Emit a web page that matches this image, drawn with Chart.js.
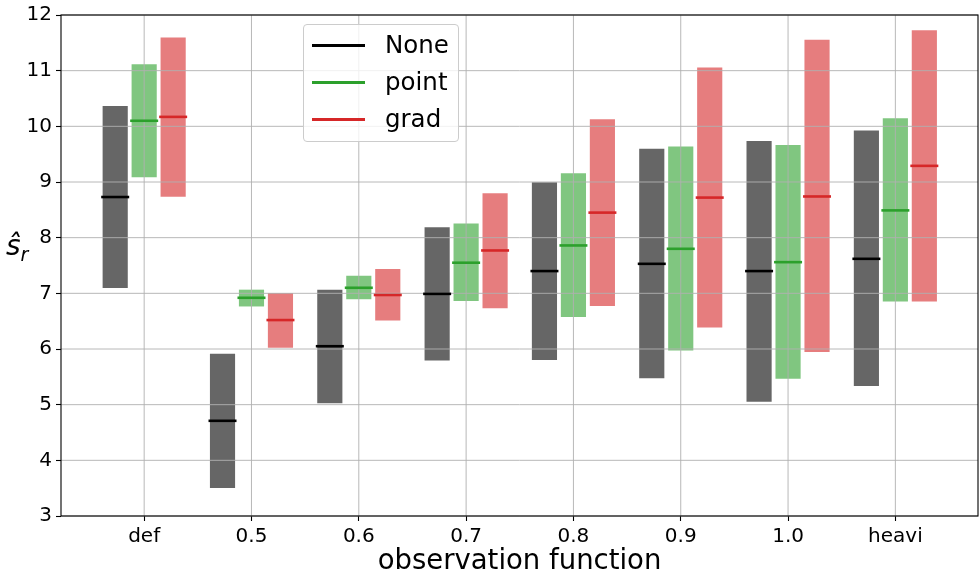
<!DOCTYPE html>
<html><head><meta charset="utf-8">
<script src="https://cdn.jsdelivr.net/npm/chart.js@4/dist/chart.umd.min.js"></script>
<style>
html,body{margin:0;padding:0;background:#fff;}
#wrap{position:relative;width:980px;height:578px;overflow:hidden;}
#c{position:absolute;left:0;top:0;}
#ylab{position:absolute;left:6px;top:232px;font-family:'DejaVu Sans';font-size:28px;font-style:italic;color:#000;line-height:1;white-space:nowrap;}
#ylab sub{font-size:19px;vertical-align:-6px;}
#legend{position:absolute;left:303px;top:24px;width:156px;height:118px;border:1px solid #cccccc;border-radius:4px;background:rgba(255,255,255,0.8);box-sizing:border-box;}
.row{position:absolute;left:0;height:30px;width:100%;}
.sw{position:absolute;left:8px;top:14px;width:53px;height:2.6px;}
.lt{position:absolute;left:81px;top:0;line-height:30px;font-family:'DejaVu Sans';font-size:24.5px;color:#000;white-space:nowrap;}
</style></head>
<body>
<div id="wrap">
<canvas id="c" width="980" height="578"></canvas>
<div id="ylab">ŝ<sub>r</sub></div>
<div id="legend"></div>
</div>
<script>
// ---- data ----
const categories = ['def', '0.5', '0.6', '0.7', '0.8', '0.9', '1.0', 'heavi'];
const seriesNames = ['None', 'point', 'grad'];

const noneLow  = [7.10, 3.51, 5.03, 5.80, 5.81, 5.48, 5.06, 5.34];
const noneHigh = [10.36, 5.91, 7.06, 8.18, 8.99, 9.59, 9.73, 9.92];
const noneMed  = [8.73, 4.71, 6.05, 6.99, 7.40, 7.53, 7.40, 7.62];

const pointLow  = [9.09, 6.77, 6.90, 6.87, 6.58, 5.98, 5.47, 6.86];
const pointHigh = [11.11, 7.06, 7.31, 8.25, 9.15, 9.63, 9.66, 10.14];
const pointMed  = [10.10, 6.92, 7.10, 7.55, 7.86, 7.80, 7.56, 8.49];

const gradLow  = [8.74, 6.03, 6.52, 6.74, 6.78, 6.39, 5.95, 6.86];
const gradHigh = [11.59, 7.00, 7.43, 8.79, 10.12, 11.05, 11.55, 11.72];
const gradMed  = [10.17, 6.52, 6.97, 7.77, 8.45, 8.72, 8.74, 9.29];

const yTicks = [3, 4, 5, 6, 7, 8, 9, 10, 11, 12];

// ---- styling ----
const FONT = "'DejaVu Sans', 'Liberation Sans', sans-serif";
const lineColors = ['#000000', '#2ca02c', '#d62728'];
const barColors = ['rgba(0,0,0,0.6)', 'rgba(44,160,44,0.6)', 'rgba(214,39,40,0.6)'];
const groupOffset = [-0.27, 0, 0.27];

const lows = [noneLow, pointLow, gradLow];
const highs = [noneHigh, pointHigh, gradHigh];
const meds = [noneMed, pointMed, gradMed];

const datasets = [];
seriesNames.forEach((name, k) => {
  datasets.push({
    type: 'bar',
    label: name + ' range',
    data: lows[k].map((lo, i) => ({ x: i + groupOffset[k], y: [lo, highs[k][i]] })),
    backgroundColor: barColors[k],
    borderWidth: 0,
    barThickness: 24.5,
    grouped: false,
    order: 2
  });
});
seriesNames.forEach((name, k) => {
  datasets.push({
    type: 'scatter',
    label: name,
    data: meds[k].map((m, i) => ({ x: i + groupOffset[k], y: m })),
    pointStyle: 'line',
    pointRadius: 14,
    pointHoverRadius: 14,
    pointBorderWidth: 2.6,
    borderColor: lineColors[k],
    backgroundColor: lineColors[k],
    showLine: false,
    order: 1
  });
});

let gridDone = false;
const mplPlugin = {
  id: 'mpl',
  beforeDatasetsDraw() { gridDone = false; },
  beforeDatasetDraw(chart, args) {
    if (gridDone || args.meta.type !== 'scatter') return;
    gridDone = true;
    const { ctx, chartArea: a, scales: { x, y } } = chart;
    ctx.save();
    ctx.strokeStyle = '#b0b0b0';
    ctx.lineWidth = 0.9;
    x.ticks.forEach(t => {
      const px = x.getPixelForValue(t.value);
      ctx.beginPath(); ctx.moveTo(px, a.top); ctx.lineTo(px, a.bottom); ctx.stroke();
    });
    y.ticks.forEach(t => {
      const py = y.getPixelForValue(t.value);
      ctx.beginPath(); ctx.moveTo(a.left, py); ctx.lineTo(a.right, py); ctx.stroke();
    });
    ctx.restore();
  },
  afterDatasetsDraw(chart) {
    const { ctx, chartArea: a } = chart;
    ctx.save();
    ctx.strokeStyle = '#000';
    ctx.lineWidth = 1.1;
    ctx.strokeRect(a.left, a.top, a.right - a.left, a.bottom - a.top);
    ctx.restore();
  }
};

const chart = new Chart(document.getElementById('c'), {
  type: 'bar',
  data: { datasets },
  plugins: [mplPlugin],
  options: {
    responsive: false,
    animation: false,
    events: [],
    layout: { autoPadding: false, padding: { top: 15, right: 2, left: 0, bottom: 0 } },
    plugins: { legend: { display: false }, tooltip: { enabled: false } },
    scales: {
      x: {
        type: 'linear',
        offset: false,
        min: -0.775,
        max: 7.77,
        afterBuildTicks: s => { s.ticks = categories.map((_, i) => ({ value: i })); },
        afterFit: s => { s.height = 62; s.paddingLeft = 0; s.paddingRight = 0; },
        ticks: {
          callback: v => categories[v] !== undefined ? categories[v] : '',
          font: { family: FONT, size: 20 },
          color: '#000',
          padding: 4,
          autoSkip: false,
          maxRotation: 0
        },
        grid: { offset: false, drawOnChartArea: false, drawTicks: true, tickLength: 5, tickColor: '#000', tickWidth: 1.1 },
        border: { display: false },
        title: {
          display: true,
          text: 'observation function',
          font: { family: FONT, size: 27.5 },
          color: '#000',
          padding: { top: 0, bottom: 0 }
        }
      },
      y: {
        type: 'linear',
        min: 3,
        max: 12,
        afterBuildTicks: s => { s.ticks = yTicks.map(v => ({ value: v })); },
        afterFit: s => { s.width = 61; s.paddingTop = 0; s.paddingBottom = 0; },
        ticks: {
          font: { family: FONT, size: 20 },
          color: '#000',
          padding: 4
        },
        grid: { drawOnChartArea: false, drawTicks: true, tickLength: 5, tickColor: '#000', tickWidth: 1.1 },
        border: { display: false }
      }
    }
  }
});

// HTML legend built from the median datasets
const legendEl = document.getElementById('legend');
const rowCenters = [20, 57, 94];
chart.data.datasets.filter(d => d.type === 'scatter').forEach((d, k) => {
  const row = document.createElement('div');
  row.className = 'row';
  row.style.top = (rowCenters[k] - 15) + 'px';
  const sw = document.createElement('div');
  sw.className = 'sw';
  sw.style.background = d.borderColor;
  const lt = document.createElement('div');
  lt.className = 'lt';
  lt.textContent = d.label;
  row.appendChild(sw); row.appendChild(lt);
  legendEl.appendChild(row);
});
</script>
</body></html>
